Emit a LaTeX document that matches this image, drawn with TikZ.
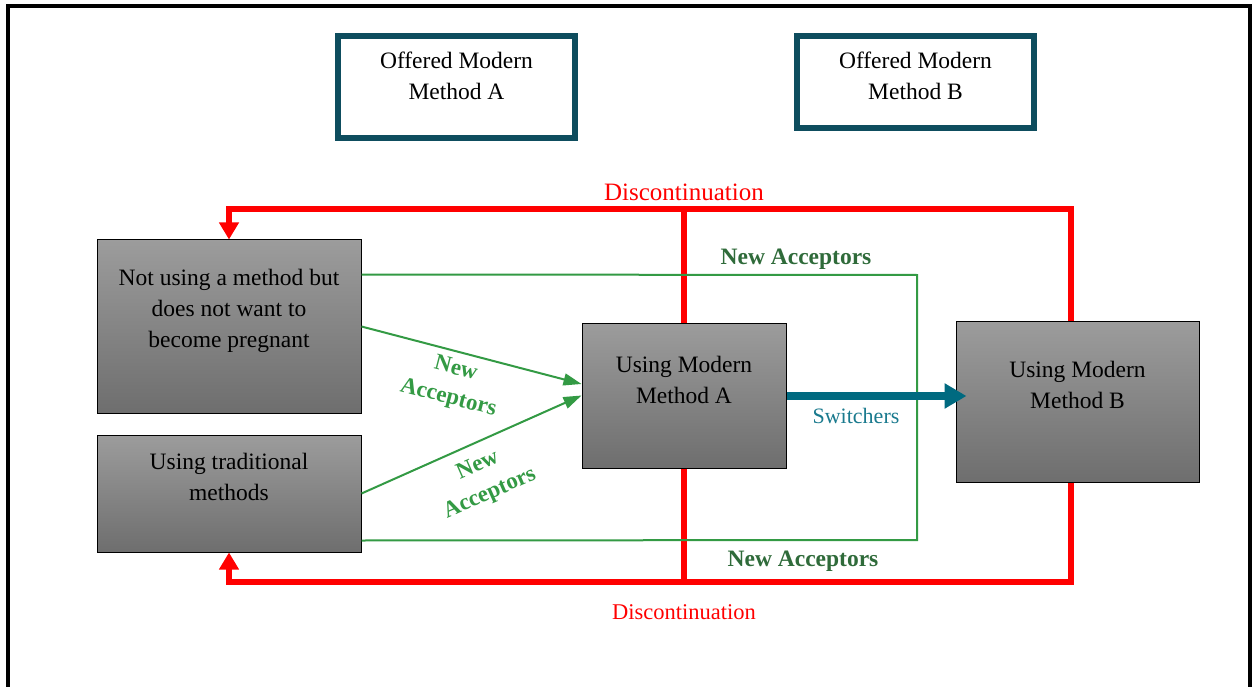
\documentclass[tikz,border=0pt]{standalone}
\usepackage{fontspec}
\setmainfont{Liberation Serif}
\usetikzlibrary{arrows.meta,calc}
\definecolor{tealbox}{HTML}{0E4D5E}
\definecolor{tealarrow}{HTML}{006A80}
\definecolor{tealtext}{HTML}{1A7A8E}
\definecolor{gline}{HTML}{339A44}
\definecolor{glabel}{HTML}{2F6B3A}
\definecolor{gtop}{HTML}{9C9C9C}
\definecolor{gbot}{HTML}{6E6E6E}
\begin{document}
\begin{tikzpicture}[x=1pt,y=-1pt,
  graybox/.style={draw=black, line width=1pt, top color=gtop, bottom color=gbot, inner sep=0pt},
  offerbox/.style={draw=tealbox, line width=6pt, inner sep=0pt},
  txt/.style={align=center, font=\fontsize{23.5}{31}\selectfont, inner sep=0pt},
  redline/.style={draw=red, line width=5.5pt, line join=miter},
  redarr/.style={redline, -{Triangle[width=19pt,length=17pt]}},
  gline/.style={draw=gline, line width=2pt},
  garr/.style={gline, -{Triangle[width=12pt,length=18pt]}},
  tarr/.style={draw=tealarrow, line width=8pt, -{Triangle[width=24pt,length=22pt]}},
  redlab/.style={text=red, font=\fontsize{25}{30}\selectfont, inner sep=0pt},
  redlabs/.style={text=red, font=\fontsize{22.5}{30}\selectfont, inner sep=0pt},
  glab/.style={text=glabel, font=\bfseries\fontsize{23.5}{28}\selectfont, inner sep=0pt},
  dlab/.style={text=gline, align=center, font=\bfseries\fontsize{23}{30}\selectfont, inner sep=0pt},
  tlab/.style={text=tealtext, font=\fontsize{22}{26}\selectfont, inner sep=0pt}]
\useasboundingbox (0,0) rectangle (1253,687);
\fill[white] (0,0) rectangle (1253,687);
% frame
\draw[line width=4pt] (8,720) -- (8,6) -- (1249.5,6) -- (1249.5,720);

% offered boxes
\node[offerbox, minimum width=237, minimum height=102] (offA) at (456.5,87) {};
\node[txt] (offAt) at ($(offA.center)+(0,-11)$) {Offered Modern\\Method A};
\node[offerbox, minimum width=237, minimum height=92] (offB) at (915.5,82) {};
\node[txt] (offBt) at ($(offB.center)+(0,-6.5)$) {Offered Modern\\Method B};

% gray boxes
\node[graybox, minimum width=264, minimum height=173] (nu) at (229,326.5) {};
\node[txt] (nut) at ($(nu.center)+(0,-16)$) {Not using a method but\\does not want to\\become pregnant};
\node[graybox, minimum width=264, minimum height=117] (tr) at (229,493.5) {};
\node[txt] (trt) at ($(tr.center)+(0,-17)$) {Using traditional\\methods};
\node[graybox, minimum width=204, minimum height=145] (A) at (684,395.5) {};
\node[txt] (At) at ($(A.center)+(0,-16)$) {Using Modern\\Method A};
\node[graybox, minimum width=243, minimum height=161] (B) at (1077.5,401.5) {};
\node[txt] (Bt) at ($(B.center)+(0,-17)$) {Using Modern\\Method B};

% red discontinuation paths
\coordinate (tR) at (1071,209);
\coordinate (tL) at (229,209);
\coordinate (bR) at (1071,582);
\coordinate (bL) at (229,582);
\draw[redline] (A.north) -- (A.north |- tL);
\draw[redarr] ([xshift=-6.5]B.north) -- (tR) -- (tL) -- (nu.north);
\draw[redline] (A.south) -- (A.south |- bL);
\draw[redarr] ([xshift=-6.5]B.south) -- (bR) -- (bL) -- (tr.south);
\node[redlab] (d1) at (684,192) {Discontinuation};
\node[redlabs] (d2) at (684,612) {Discontinuation};

% green loop
\coordinate (gTR) at (917,275);
\coordinate (gBR) at (917,540);
\draw[gline] ($(nu.north east)+(0,35)$) -- (gTR) -- (gBR) -- ($(tr.south east)+(0,-12)$);
\node[glab] (na1) at (796,259) {New Acceptors};
\node[glab] (na2) at (803,561) {New Acceptors};

% diagonal arrows
\draw[garr] (nu.east) -- ($(A.west)+(0,-11.5)$);
\draw[garr] (tr.east) -- (A.west);
\node[dlab, rotate=-14.5] (dl1) at (452,384) {New\\Acceptors};
\node[dlab, rotate=23.7] (dl2) at (484,480) {New\\Acceptors};

% switchers
\draw[tarr] ([yshift=-0.5]A.east) -- ([xshift=11,yshift=-0.5]A.east -| B.west);
\node[tlab] (sw) at (856,416) {Switchers};
\end{tikzpicture}
\end{document}
